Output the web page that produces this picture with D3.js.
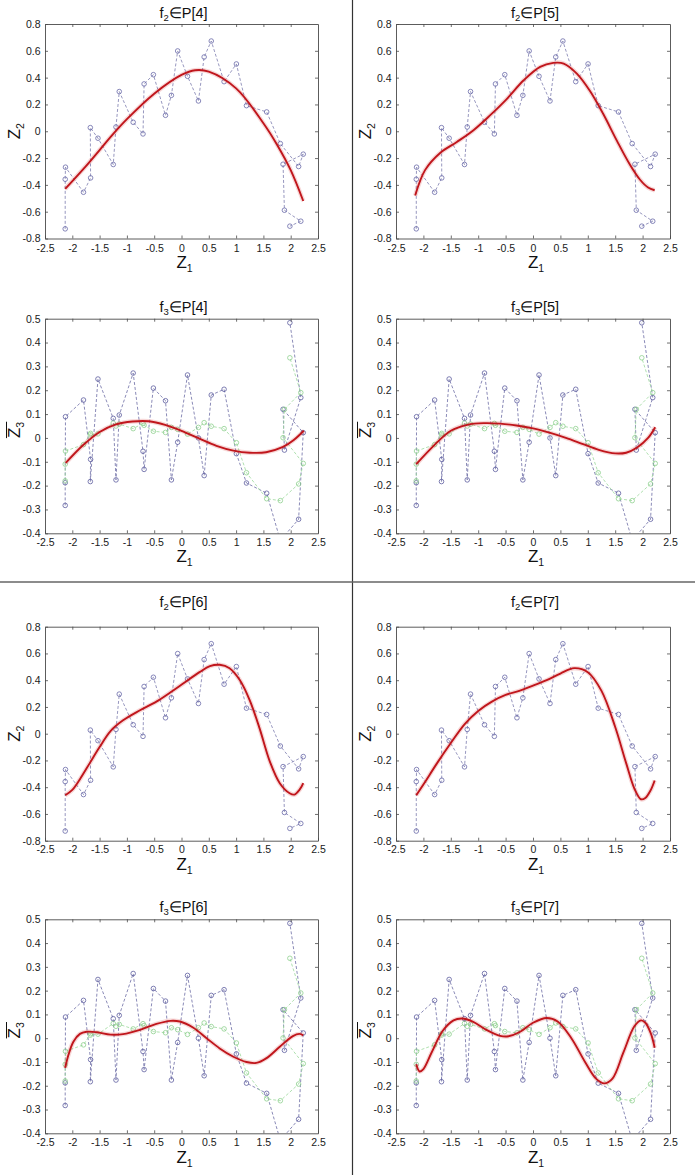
<!DOCTYPE html>
<html><head><meta charset="utf-8">
<script src="https://cdn.jsdelivr.net/npm/d3@7"></script>
<style>
html,body{margin:0;padding:0;background:#fff;}
svg{display:block;font-family:"Liberation Sans",Arial,sans-serif;}
</style></head>
<body>
<svg id="c" width="695" height="1175"></svg>
<script>
// ---------- data ----------
const xTicks = [-2.5,-2,-1.5,-1,-0.5,0,0.5,1,1.5,2,2.5];
const yTicksF2 = [-0.8,-0.6,-0.4,-0.2,0,0.2,0.4,0.6,0.8];
const yTicksF3 = [-0.4,-0.3,-0.2,-0.1,0,0.1,0.2,0.3,0.4,0.5];

const z1 = [-2.13,-2.13,-2.125,-1.795,-1.665,-1.67,-1.53,-1.25,-1.2,-1.14,-0.885,-0.705,-0.685,-0.515,-0.293,-0.185,-0.07,0.11,0.31,0.415,0.545,0.78,1.005,1.19,1.56,1.81,2.145,2.23,1.86,1.885,2.185,1.985];
const z2 = [-0.728,-0.358,-0.268,-0.455,-0.348,0.027,-0.052,-0.248,0.032,0.296,0.067,-0.02,0.353,0.422,0.119,0.268,0.599,0.41,0.226,0.554,0.673,0.37,0.502,0.191,0.144,-0.092,-0.263,-0.171,-0.246,-0.589,-0.671,-0.708];
const z3Blue = [-0.283,-0.188,0.089,0.159,-0.09,-0.183,0.247,0.082,-0.176,0.096,0.272,-0.056,-0.132,0.209,0.156,-0.176,-0.018,0.264,0.0,-0.158,0.18,0.204,-0.066,-0.189,-0.232,-0.43,-0.341,0.022,0.12,-0.051,0.169,0.483];
const z3Green = [-0.18,-0.11,-0.055,-0.028,0.019,0.013,0.017,0.062,0.05,0.058,0.039,0.061,0.053,0.028,0.023,0.044,0.036,0.016,0.044,0.064,0.049,0.039,-0.02,-0.146,-0.255,-0.263,-0.193,-0.107,0.001,0.12,0.19,0.336];

// fitted curves [z1, value]
const fitF2P4 = [[-2.13,-0.43],[-1.75,-0.26],[-1.5,-0.14],[-1.25,-0.02],[-1.0,0.09],[-0.5,0.28],[0,0.42],[0.25,0.455],[0.5,0.445],[1.0,0.32],[1.5,0.06],[1.75,-0.10],[2.0,-0.29],[2.23,-0.52]];
const fitF2P5 = [[-2.15,-0.48],[-1.97,-0.29],[-1.69,-0.16],[-1.39,-0.08],[-1.08,0.01],[-0.78,0.12],[-0.48,0.24],[-0.17,0.38],[0.13,0.48],[0.37,0.51],[0.56,0.505],[0.8,0.43],[1.04,0.30],[1.28,0.13],[1.53,-0.07],[1.77,-0.25],[1.95,-0.36],[2.1,-0.42],[2.22,-0.44]];
const fitF2P6 = [[-2.13,-0.46],[-2.0,-0.42],[-1.86,-0.34],[-1.68,-0.22],[-1.5,-0.10],[-1.3,0.02],[-1.07,0.10],[-0.76,0.175],[-0.46,0.24],[-0.2,0.31],[0.03,0.375],[0.33,0.46],[0.52,0.505],[0.7,0.515],[0.88,0.49],[1.07,0.40],[1.25,0.25],[1.43,0.04],[1.62,-0.21],[1.8,-0.37],[1.98,-0.445],[2.07,-0.455],[2.16,-0.42],[2.23,-0.37]];
const fitF2P7 = [[-2.13,-0.46],[-2.0,-0.38],[-1.75,-0.22],[-1.5,-0.07],[-1.25,0.07],[-1.0,0.17],[-0.75,0.24],[-0.5,0.29],[-0.25,0.32],[0,0.36],[0.25,0.40],[0.5,0.45],[0.75,0.49],[1.0,0.46],[1.25,0.32],[1.5,0.05],[1.7,-0.22],[1.85,-0.41],[1.97,-0.49],[2.05,-0.48],[2.15,-0.42],[2.22,-0.35]];
const fitF3P4 = [[-2.12,-0.105],[-1.8,-0.03],[-1.5,0.025],[-1.2,0.057],[-0.9,0.069],[-0.6,0.07],[-0.3,0.055],[0.0,0.03],[0.33,-0.003],[0.64,-0.033],[0.95,-0.053],[1.25,-0.062],[1.55,-0.06],[1.86,-0.038],[2.05,-0.01],[2.24,0.03]];
const fitF3P5 = [[-2.13,-0.11],[-1.8,-0.03],[-1.5,0.03],[-1.2,0.055],[-0.9,0.062],[-0.6,0.06],[-0.3,0.052],[0.0,0.04],[0.3,0.022],[0.6,0.0],[0.9,-0.025],[1.2,-0.05],[1.5,-0.065],[1.7,-0.062],[1.9,-0.04],[2.1,0.0],[2.23,0.045]];
const fitF3P6 = [[-2.13,-0.125],[-2.07,-0.07],[-1.98,-0.015],[-1.86,0.018],[-1.74,0.027],[-1.55,0.025],[-1.3,0.015],[-1.07,0.017],[-0.76,0.035],[-0.46,0.06],[-0.2,0.073],[-0.03,0.07],[0.21,0.045],[0.46,0.0],[0.7,-0.043],[0.95,-0.078],[1.19,-0.1],[1.37,-0.104],[1.55,-0.085],[1.8,-0.036],[2.04,0.009],[2.16,0.018],[2.23,0.012]];
const fitF3P7 = [[-2.13,-0.11],[-2.07,-0.14],[-2.0,-0.13],[-1.85,-0.06],[-1.65,0.03],[-1.45,0.075],[-1.3,0.083],[-1.1,0.07],[-0.85,0.035],[-0.6,0.01],[-0.45,0.008],[-0.25,0.025],[0.0,0.065],[0.25,0.085],[0.45,0.07],[0.7,0.0],[0.95,-0.1],[1.15,-0.17],[1.3,-0.19],[1.45,-0.17],[1.65,-0.06],[1.85,0.05],[1.97,0.075],[2.05,0.065],[2.15,0.02],[2.22,-0.04]];

const panelKinds = ["f2","f2","f3","f3","f2","f2","f3","f3"];
const panelDegrees = [4,5,4,5,6,7,6,7];
const panelFits = [fitF2P4,fitF2P5,fitF3P4,fitF3P5,fitF2P6,fitF2P7,fitF3P6,fitF3P7];

// ---------- layout ----------
const svg = d3.select("#c");
const cols = [[45,318],[396,670]];
const rows = [
  {top:24, bottom:238.5, title:18.3, tickPad:6, xlab:268},
  {top:318.7, bottom:533.3, title:311.7, tickPad:5, xlab:561.7},
  {top:626.7, bottom:840.7, title:606.7, tickPad:5, xlab:870},
  {top:919.3, bottom:1133.3, title:912.3, tickPad:5, xlab:1163.3}
];
const fmt = v => String(+v.toFixed(1));
const AX = "#4a4a4a";

// dividers
svg.append("line").attr("x1",352.5).attr("x2",352.5).attr("y1",0).attr("y2",1175)
  .attr("stroke","#333").attr("stroke-width",1.2);
svg.append("line").attr("x1",0).attr("x2",695).attr("y1",582).attr("y2",582)
  .attr("stroke","#666").attr("stroke-width",1.6);

panelKinds.forEach((kind,pi)=>{
  const col = pi % 2, row = Math.floor(pi/2);
  const [L,R] = cols[col];
  const rw = rows[row];
  const x = d3.scaleLinear().domain([-2.5,2.5]).range([L,R]);
  const y = d3.scaleLinear().domain(kind==="f2"?[-0.8,0.8]:[-0.4,0.5]).range([rw.bottom,rw.top]);
  const yt = kind==="f2"?yTicksF2:yTicksF3;
  const g = svg.append("g");

  const cid = "clip"+pi;
  svg.append("clipPath").attr("id",cid).append("rect")
    .attr("x",L).attr("y",rw.top).attr("width",R-L).attr("height",rw.bottom-rw.top);
  const plot = g.append("g").attr("clip-path",`url(#${cid})`);

  const idx = d3.range(z1.length);
  const drawSeries = (vals,color,mcolor)=>{
    const ln = d3.line().x(i=>x(z1[i])).y(i=>y(vals[i]));
    plot.append("path").attr("d",ln(idx)).attr("fill","none")
      .attr("stroke",color).attr("stroke-width",0.8).attr("stroke-dasharray","3,2");
    plot.selectAll(null).data(idx).join("circle")
      .attr("cx",i=>x(z1[i])).attr("cy",i=>y(vals[i])).attr("r",2.3)
      .attr("fill","none").attr("stroke",mcolor).attr("stroke-width",0.8);
  };
  if(kind==="f2"){
    drawSeries(z2,"#7c7cae","#6a6aa8");
  } else {
    drawSeries(z3Blue,"#6c6ca4","#5e5ea0");
    drawSeries(z3Green,"#9ad89a","#8fd08f");
  }
  const fit = panelFits[pi];
  const fl = d3.line().x(d=>x(d[0])).y(d=>y(d[1])).curve(d3.curveCatmullRom.alpha(0.5));
  plot.append("path").attr("d",fl(fit)).attr("fill","none")
    .attr("stroke","rgba(210,40,40,0.18)").attr("stroke-width",4.5);
  plot.append("path").attr("d",fl(fit)).attr("fill","none")
    .attr("stroke","#c0161c").attr("stroke-width",1.9);

  // axes
  const styleAxis = sel=>{
    sel.selectAll("path.domain").attr("stroke",AX).attr("stroke-width",0.9);
    sel.selectAll(".tick line").attr("stroke",AX).attr("stroke-width",0.8);
    sel.selectAll(".tick text").attr("fill","#1a1a1a").attr("font-size","10.5px")
      .attr("font-family","'Liberation Sans',Arial,sans-serif");
  };
  g.append("g").attr("transform",`translate(0,${rw.bottom})`)
    .call(d3.axisBottom(x).tickValues(xTicks).tickSizeInner(-3).tickSizeOuter(0).tickPadding(rw.tickPad).tickFormat(fmt))
    .call(styleAxis);
  g.append("g").attr("transform",`translate(0,${rw.top})`)
    .call(d3.axisTop(x).tickValues(xTicks.slice(1,-1)).tickSizeInner(-3).tickSizeOuter(0).tickFormat(""))
    .call(styleAxis);
  g.append("g").attr("transform",`translate(${L},0)`)
    .call(d3.axisLeft(y).tickValues(yt).tickSizeInner(-3).tickSizeOuter(0).tickPadding(4.5).tickFormat(fmt))
    .call(styleAxis);
  g.append("g").attr("transform",`translate(${R},0)`)
    .call(d3.axisRight(y).tickValues(yt.slice(1,-1)).tickSizeInner(-3).tickSizeOuter(0).tickFormat(""))
    .call(styleAxis);

  // title
  const cx = (L+R)/2;
  const t = g.append("text").attr("x",cx+2).attr("y",rw.title).attr("text-anchor","middle")
    .attr("font-size","14.5px").attr("fill","#111");
  t.append("tspan").text("f");
  t.append("tspan").attr("font-size","9.5px").attr("dy",3).text(kind==="f2"?"2":"3");
  t.append("tspan").attr("dy",-3).text("\u2208P["+panelDegrees[pi]+"]");

  // x label
  const xl = g.append("text").attr("x",cx+3).attr("y",rw.xlab).attr("text-anchor","middle")
    .attr("font-size","17px").attr("fill","#111");
  xl.append("tspan").text("Z");
  xl.append("tspan").attr("font-size","10.5px").attr("dy",4).text("1");

  // y label
  const ycy = (rw.top+rw.bottom)/2 + (kind==="f3"?4:0);
  const yg = g.append("g").attr("transform",`translate(${L-25},${ycy})rotate(-90)`);
  const yl = yg.append("text").attr("x",0).attr("y",0).attr("text-anchor","middle")
    .attr("font-size","17px").attr("fill","#111");
  yl.append("tspan").text("Z");
  yl.append("tspan").attr("font-size","10.5px").attr("dy",4).text(kind==="f2"?"2":"3");
  if(kind==="f3"){
    const bb = yl.node().getBBox();
    yg.append("line").attr("x1",bb.x).attr("x2",bb.x+bb.width)
      .attr("y1",bb.y+1.5).attr("y2",bb.y+1.5).attr("stroke","#111").attr("stroke-width",1);
  }
});
</script>
</body></html>
